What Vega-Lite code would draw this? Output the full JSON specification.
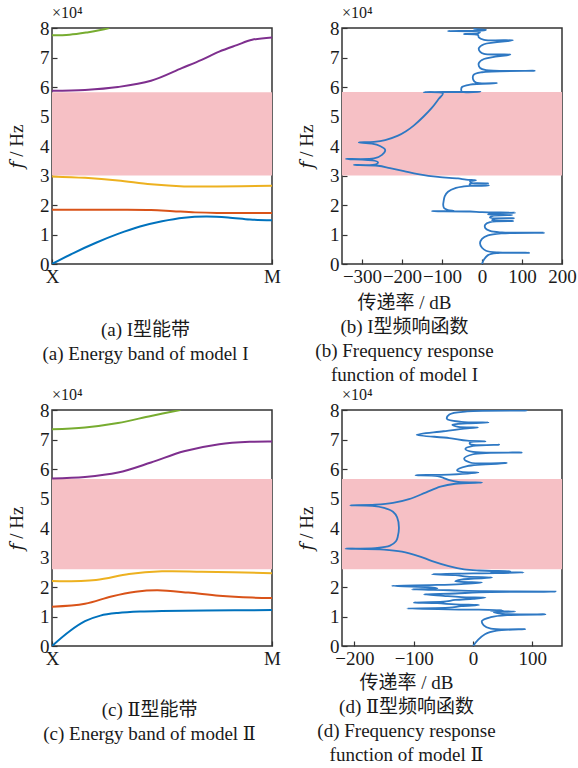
{
  "$schema": "https://vega.github.io/schema/vega-lite/v6.json",
  "autosize": {"type": "pad"},
  "padding": {"left": 6, "top": 4, "right": 5, "bottom": 5},
  "background": "white",
  "bounds": "flush",
  "columns": 2,
  "spacing": {"row": 146, "column": 70},
  "datasets": {
    "bandA": [
      {"k": 0, "f": 0, "mode": "1"}, {"k": 0.1, "f": 0.38, "mode": "1"}, {"k": 0.2, "f": 0.72, "mode": "1"}, {"k": 0.3, "f": 1.02, "mode": "1"}, {"k": 0.4, "f": 1.27, "mode": "1"}, {"k": 0.5, "f": 1.45, "mode": "1"}, {"k": 0.6, "f": 1.57, "mode": "1"}, {"k": 0.7, "f": 1.61, "mode": "1"}, {"k": 0.8, "f": 1.58, "mode": "1"}, {"k": 0.9, "f": 1.51, "mode": "1"}, {"k": 1, "f": 1.48, "mode": "1"},
      {"k": 0, "f": 1.84, "mode": "2"}, {"k": 0.3, "f": 1.84, "mode": "2"}, {"k": 0.45, "f": 1.83, "mode": "2"}, {"k": 0.55, "f": 1.79, "mode": "2"}, {"k": 0.65, "f": 1.75, "mode": "2"}, {"k": 0.75, "f": 1.73, "mode": "2"}, {"k": 1, "f": 1.73, "mode": "2"},
      {"k": 0, "f": 2.97, "mode": "3"}, {"k": 0.15, "f": 2.92, "mode": "3"}, {"k": 0.3, "f": 2.83, "mode": "3"}, {"k": 0.45, "f": 2.7, "mode": "3"}, {"k": 0.6, "f": 2.63, "mode": "3"}, {"k": 0.75, "f": 2.63, "mode": "3"}, {"k": 1, "f": 2.65, "mode": "3"},
      {"k": 0, "f": 5.87, "mode": "4"}, {"k": 0.15, "f": 5.9, "mode": "4"}, {"k": 0.3, "f": 6.0, "mode": "4"}, {"k": 0.45, "f": 6.21, "mode": "4"}, {"k": 0.59, "f": 6.64, "mode": "4"}, {"k": 0.68, "f": 6.92, "mode": "4"}, {"k": 0.76, "f": 7.2, "mode": "4"}, {"k": 0.84, "f": 7.42, "mode": "4"}, {"k": 0.91, "f": 7.6, "mode": "4"}, {"k": 1, "f": 7.68, "mode": "4"},
      {"k": 0, "f": 7.75, "mode": "5"}, {"k": 0.08, "f": 7.77, "mode": "5"}, {"k": 0.16, "f": 7.85, "mode": "5"}, {"k": 0.22, "f": 7.93, "mode": "5"}, {"k": 0.26, "f": 8.0, "mode": "5"}
    ],
    "bandC": [
      {"k": 0, "f": 0, "mode": "1"}, {"k": 0.08, "f": 0.5, "mode": "1"}, {"k": 0.15, "f": 0.84, "mode": "1"}, {"k": 0.22, "f": 1.03, "mode": "1"}, {"k": 0.3, "f": 1.12, "mode": "1"}, {"k": 0.4, "f": 1.17, "mode": "1"}, {"k": 0.5, "f": 1.19, "mode": "1"}, {"k": 0.7, "f": 1.2, "mode": "1"}, {"k": 1, "f": 1.22, "mode": "1"},
      {"k": 0, "f": 1.33, "mode": "2"}, {"k": 0.15, "f": 1.43, "mode": "2"}, {"k": 0.27, "f": 1.68, "mode": "2"}, {"k": 0.38, "f": 1.84, "mode": "2"}, {"k": 0.48, "f": 1.89, "mode": "2"}, {"k": 0.62, "f": 1.81, "mode": "2"}, {"k": 0.76, "f": 1.7, "mode": "2"}, {"k": 0.91, "f": 1.64, "mode": "2"}, {"k": 1, "f": 1.63, "mode": "2"},
      {"k": 0, "f": 2.2, "mode": "3"}, {"k": 0.2, "f": 2.24, "mode": "3"}, {"k": 0.35, "f": 2.44, "mode": "3"}, {"k": 0.5, "f": 2.53, "mode": "3"}, {"k": 0.68, "f": 2.52, "mode": "3"}, {"k": 1, "f": 2.47, "mode": "3"},
      {"k": 0, "f": 5.68, "mode": "4"}, {"k": 0.15, "f": 5.73, "mode": "4"}, {"k": 0.3, "f": 5.88, "mode": "4"}, {"k": 0.45, "f": 6.22, "mode": "4"}, {"k": 0.6, "f": 6.6, "mode": "4"}, {"k": 0.76, "f": 6.84, "mode": "4"}, {"k": 0.9, "f": 6.92, "mode": "4"}, {"k": 1, "f": 6.93, "mode": "4"},
      {"k": 0, "f": 7.35, "mode": "5"}, {"k": 0.15, "f": 7.41, "mode": "5"}, {"k": 0.3, "f": 7.56, "mode": "5"}, {"k": 0.45, "f": 7.8, "mode": "5"}, {"k": 0.583, "f": 8.0, "mode": "5"}
    ],
    "frfB": [
      {"f": 0.0, "v": 0}, {"f": 0.15, "v": 5}, {"f": 0.3, "v": 15}, {"f": 0.37, "v": 40}, {"f": 0.38, "v": 118}, {"f": 0.39, "v": 40}, {"f": 0.45, "v": 10}, {"f": 0.55, "v": 0}, {"f": 0.7, "v": -5}, {"f": 0.85, "v": 0}, {"f": 0.97, "v": 15}, {"f": 1.04, "v": 50}, {"f": 1.06, "v": 155}, {"f": 1.07, "v": 50}, {"f": 1.12, "v": 20}, {"f": 1.22, "v": 8}, {"f": 1.33, "v": 8}, {"f": 1.42, "v": 20}, {"f": 1.46, "v": 78}, {"f": 1.48, "v": 25}, {"f": 1.52, "v": 30}, {"f": 1.55, "v": 80}, {"f": 1.57, "v": 20}, {"f": 1.62, "v": 25}, {"f": 1.66, "v": 75}, {"f": 1.68, "v": 15}, {"f": 1.72, "v": 30}, {"f": 1.74, "v": 83}, {"f": 1.76, "v": 0}, {"f": 1.78, "v": -30}, {"f": 1.79, "v": -125}, {"f": 1.8, "v": -70}, {"f": 1.83, "v": -85}, {"f": 1.9, "v": -95}, {"f": 2.0, "v": -97}, {"f": 2.12, "v": -96}, {"f": 2.3, "v": -93}, {"f": 2.45, "v": -85}, {"f": 2.58, "v": -65}, {"f": 2.63, "v": -45}, {"f": 2.65, "v": -30}, {"f": 2.66, "v": 17}, {"f": 2.67, "v": -30}, {"f": 2.72, "v": -30}, {"f": 2.73, "v": 15}, {"f": 2.74, "v": -25}, {"f": 2.8, "v": -30}, {"f": 2.84, "v": -15}, {"f": 2.86, "v": -40}, {"f": 2.9, "v": -60}, {"f": 2.95, "v": -110}, {"f": 3.05, "v": -160}, {"f": 3.15, "v": -195}, {"f": 3.25, "v": -230}, {"f": 3.33, "v": -260}, {"f": 3.36, "v": -320}, {"f": 3.38, "v": -265}, {"f": 3.45, "v": -260}, {"f": 3.5, "v": -268}, {"f": 3.56, "v": -340}, {"f": 3.58, "v": -270}, {"f": 3.7, "v": -250}, {"f": 3.87, "v": -242}, {"f": 4.0, "v": -255}, {"f": 4.08, "v": -275}, {"f": 4.12, "v": -308}, {"f": 4.14, "v": -270}, {"f": 4.2, "v": -242}, {"f": 4.35, "v": -210}, {"f": 4.5, "v": -190}, {"f": 4.7, "v": -170}, {"f": 5.0, "v": -146}, {"f": 5.3, "v": -125}, {"f": 5.6, "v": -108}, {"f": 5.78, "v": -98}, {"f": 5.825, "v": -145}, {"f": 5.83, "v": -50}, {"f": 5.835, "v": -4}, {"f": 5.84, "v": -50}, {"f": 5.9, "v": -52}, {"f": 6.0, "v": -50}, {"f": 6.08, "v": -30}, {"f": 6.13, "v": 37}, {"f": 6.15, "v": -15}, {"f": 6.25, "v": -22}, {"f": 6.41, "v": -21}, {"f": 6.5, "v": 0}, {"f": 6.55, "v": 132}, {"f": 6.57, "v": 10}, {"f": 6.65, "v": -5}, {"f": 6.81, "v": -8}, {"f": 6.95, "v": 5}, {"f": 7.1, "v": 71}, {"f": 7.12, "v": 5}, {"f": 7.2, "v": -5}, {"f": 7.31, "v": -8}, {"f": 7.45, "v": 5}, {"f": 7.58, "v": 77}, {"f": 7.6, "v": 5}, {"f": 7.68, "v": -8}, {"f": 7.76, "v": -10}, {"f": 7.8, "v": -45}, {"f": 7.82, "v": -10}, {"f": 7.86, "v": -5}, {"f": 7.9, "v": -85}, {"f": 7.92, "v": 5}, {"f": 7.94, "v": 10}, {"f": 7.97, "v": -20}, {"f": 8.0, "v": -15}
    ],
    "frfD": [
      {"f": 0.0, "v": 0}, {"f": 0.2, "v": 8}, {"f": 0.4, "v": 20}, {"f": 0.52, "v": 40}, {"f": 0.57, "v": 88}, {"f": 0.59, "v": 30}, {"f": 0.7, "v": 18}, {"f": 0.85, "v": 15}, {"f": 0.98, "v": 30}, {"f": 1.05, "v": 60}, {"f": 1.07, "v": 122}, {"f": 1.09, "v": 50}, {"f": 1.14, "v": 35}, {"f": 1.17, "v": 71}, {"f": 1.19, "v": 30}, {"f": 1.21, "v": 50}, {"f": 1.23, "v": 10}, {"f": 1.27, "v": -111}, {"f": 1.3, "v": -40}, {"f": 1.35, "v": -20}, {"f": 1.39, "v": 10}, {"f": 1.41, "v": -30}, {"f": 1.45, "v": -60}, {"f": 1.47, "v": -100}, {"f": 1.5, "v": -50}, {"f": 1.56, "v": -30}, {"f": 1.6, "v": 0}, {"f": 1.64, "v": 21}, {"f": 1.66, "v": -20}, {"f": 1.7, "v": -50}, {"f": 1.75, "v": -83}, {"f": 1.78, "v": -30}, {"f": 1.82, "v": 10}, {"f": 1.84, "v": 139}, {"f": 1.86, "v": 20}, {"f": 1.89, "v": -40}, {"f": 1.92, "v": -103}, {"f": 1.95, "v": -60}, {"f": 2.0, "v": -80}, {"f": 2.04, "v": -137}, {"f": 2.07, "v": -60}, {"f": 2.1, "v": -20}, {"f": 2.15, "v": 15}, {"f": 2.19, "v": -30}, {"f": 2.25, "v": -20}, {"f": 2.32, "v": 32}, {"f": 2.35, "v": -10}, {"f": 2.4, "v": -30}, {"f": 2.43, "v": -69}, {"f": 2.46, "v": 0}, {"f": 2.49, "v": 85}, {"f": 2.51, "v": 30}, {"f": 2.53, "v": 63}, {"f": 2.56, "v": 10}, {"f": 2.6, "v": -15}, {"f": 2.71, "v": -41}, {"f": 2.88, "v": -69}, {"f": 3.05, "v": -92}, {"f": 3.2, "v": -120}, {"f": 3.27, "v": -150}, {"f": 3.3, "v": -215}, {"f": 3.32, "v": -165}, {"f": 3.4, "v": -140}, {"f": 3.55, "v": -130}, {"f": 3.7, "v": -127}, {"f": 4.02, "v": -125}, {"f": 4.36, "v": -128}, {"f": 4.55, "v": -135}, {"f": 4.68, "v": -150}, {"f": 4.75, "v": -170}, {"f": 4.77, "v": -207}, {"f": 4.79, "v": -165}, {"f": 4.85, "v": -135}, {"f": 4.98, "v": -108}, {"f": 5.2, "v": -80}, {"f": 5.4, "v": -55}, {"f": 5.5, "v": -30}, {"f": 5.54, "v": 15}, {"f": 5.56, "v": -25}, {"f": 5.62, "v": -40}, {"f": 5.7, "v": -50}, {"f": 5.76, "v": -60}, {"f": 5.79, "v": -97}, {"f": 5.81, "v": -40}, {"f": 5.88, "v": 9}, {"f": 5.9, "v": -20}, {"f": 5.96, "v": -27}, {"f": 6.1, "v": -10}, {"f": 6.2, "v": 57}, {"f": 6.22, "v": -5}, {"f": 6.35, "v": -15}, {"f": 6.5, "v": 0}, {"f": 6.56, "v": 82}, {"f": 6.58, "v": 0}, {"f": 6.68, "v": -13}, {"f": 6.78, "v": 0}, {"f": 6.82, "v": 44}, {"f": 6.84, "v": -5}, {"f": 6.9, "v": -5}, {"f": 6.94, "v": 21}, {"f": 6.96, "v": -10}, {"f": 7.05, "v": -40}, {"f": 7.16, "v": -95}, {"f": 7.28, "v": -50}, {"f": 7.38, "v": -10}, {"f": 7.41, "v": 8}, {"f": 7.43, "v": -25}, {"f": 7.5, "v": -35}, {"f": 7.55, "v": -10}, {"f": 7.58, "v": 26}, {"f": 7.6, "v": -20}, {"f": 7.7, "v": -44}, {"f": 7.85, "v": -40}, {"f": 7.95, "v": -10}, {"f": 7.98, "v": 91}, {"f": 8.0, "v": 50}
    ]
  },
  "concat": [
    {
      "width": 220, "height": 236,
      "title": {"text": "×10⁴"},
      "layer": [
        {
          "data": {"values": [{"lo": 3.0, "hi": 5.82}]},
          "mark": {"type": "rect", "color": "#F6C0C5"},
          "encoding": {
            "x": {"datum": 0, "type": "quantitative", "scale": {"domain": [0, 1], "nice": false}, "axis": {"values": [0, 1], "labelExpr": "datum.value == 0 ? 'X' : 'M'", "title": ["(a) I型能带", "(a) Energy band of model I"], "titleX": 93, "titleY": 71}},
            "x2": {"datum": 1},
            "y": {"field": "lo", "type": "quantitative", "scale": {"domain": [0, 8], "nice": false}, "axis": {"values": [0, 1, 2, 3, 4, 5, 6, 7, 8], "title": "𝑓 / Hz"}},
            "y2": {"field": "hi"}
          }
        },
        {
          "data": {"name": "bandA"},
          "mark": {"type": "line", "strokeWidth": 2, "clip": true, "interpolate": "catmull-rom"},
          "encoding": {
            "x": {"field": "k", "type": "quantitative", "scale": {"domain": [0, 1], "nice": false}, "axis": {"values": [0, 1], "labelExpr": "datum.value == 0 ? 'X' : 'M'", "title": ["(a) I型能带", "(a) Energy band of model I"], "titleX": 93, "titleY": 71}},
            "y": {"field": "f", "type": "quantitative", "scale": {"domain": [0, 8], "nice": false}, "axis": {"values": [0, 1, 2, 3, 4, 5, 6, 7, 8], "title": "𝑓 / Hz"}},
            "color": {"field": "mode", "type": "nominal", "scale": {"domain": ["1", "2", "3", "4", "5"], "range": ["#0072BD", "#D95319", "#EDB120", "#7E2F8E", "#77AC30"]}, "legend": null}
          }
        }
      ]
    },
    {
      "width": 220, "height": 236,
      "title": {"text": "×10⁴"},
      "layer": [
        {
          "data": {"values": [{"lo": 3.0, "hi": 5.83}]},
          "mark": {"type": "rect", "color": "#F6C0C5"},
          "encoding": {
            "x": {"datum": -350, "type": "quantitative", "scale": {"domain": [-350, 200], "nice": false}, "axis": {"values": [-300, -200, -100, 0, 100, 200], "labelOverlap": false, "title": ["传递率 / dB", "(b) I型频响函数", "(b) Frequency response", "function of model I"], "titleX": 62, "titleY": 44}},
            "x2": {"datum": 200},
            "y": {"field": "lo", "type": "quantitative", "scale": {"domain": [0, 8], "nice": false}, "axis": {"values": [0, 1, 2, 3, 4, 5, 6, 7, 8], "title": "𝑓 / Hz"}},
            "y2": {"field": "hi"}
          }
        },
        {
          "data": {"name": "frfB"},
          "mark": {"type": "line", "strokeWidth": 1.8, "color": "#2E78C3", "clip": true, "interpolate": "catmull-rom"},
          "encoding": {
            "x": {"field": "v", "type": "quantitative", "scale": {"domain": [-350, 200], "nice": false}, "axis": {"values": [-300, -200, -100, 0, 100, 200], "labelOverlap": false, "title": ["传递率 / dB", "(b) I型频响函数", "(b) Frequency response", "function of model I"], "titleX": 62, "titleY": 44}},
            "y": {"field": "f", "type": "quantitative", "scale": {"domain": [0, 8], "nice": false}, "axis": {"values": [0, 1, 2, 3, 4, 5, 6, 7, 8], "title": "𝑓 / Hz"}},
            "order": {"field": "f"}
          }
        }
      ]
    },
    {
      "width": 220, "height": 236,
      "title": {"text": "×10⁴"},
      "layer": [
        {
          "data": {"values": [{"lo": 2.6, "hi": 5.66}]},
          "mark": {"type": "rect", "color": "#F6C0C5"},
          "encoding": {
            "x": {"datum": 0, "type": "quantitative", "scale": {"domain": [0, 1], "nice": false}, "axis": {"values": [0, 1], "labelExpr": "datum.value == 0 ? 'X' : 'M'", "title": ["(c) Ⅱ型能带", "(c) Energy band of model Ⅱ"], "titleX": 97, "titleY": 69}},
            "x2": {"datum": 1},
            "y": {"field": "lo", "type": "quantitative", "scale": {"domain": [0, 8], "nice": false}, "axis": {"values": [0, 1, 2, 3, 4, 5, 6, 7, 8], "title": "𝑓 / Hz"}},
            "y2": {"field": "hi"}
          }
        },
        {
          "data": {"name": "bandC"},
          "mark": {"type": "line", "strokeWidth": 2, "clip": true, "interpolate": "catmull-rom"},
          "encoding": {
            "x": {"field": "k", "type": "quantitative", "scale": {"domain": [0, 1], "nice": false}, "axis": {"values": [0, 1], "labelExpr": "datum.value == 0 ? 'X' : 'M'", "title": ["(c) Ⅱ型能带", "(c) Energy band of model Ⅱ"], "titleX": 97, "titleY": 69}},
            "y": {"field": "f", "type": "quantitative", "scale": {"domain": [0, 8], "nice": false}, "axis": {"values": [0, 1, 2, 3, 4, 5, 6, 7, 8], "title": "𝑓 / Hz"}},
            "color": {"field": "mode", "type": "nominal", "scale": {"domain": ["1", "2", "3", "4", "5"], "range": ["#0072BD", "#D95319", "#EDB120", "#7E2F8E", "#77AC30"]}, "legend": null}
          }
        }
      ]
    },
    {
      "width": 220, "height": 236,
      "title": {"text": "×10⁴"},
      "layer": [
        {
          "data": {"values": [{"lo": 2.6, "hi": 5.66}]},
          "mark": {"type": "rect", "color": "#F6C0C5"},
          "encoding": {
            "x": {"datum": -221, "type": "quantitative", "scale": {"domain": [-221, 150], "nice": false}, "axis": {"values": [-200, -100, 0, 100], "labelOverlap": false, "title": ["传递率 / dB", "(d) Ⅱ型频响函数", "(d) Frequency response", "function of model Ⅱ"], "titleX": 64, "titleY": 42}},
            "x2": {"datum": 150},
            "y": {"field": "lo", "type": "quantitative", "scale": {"domain": [0, 8], "nice": false}, "axis": {"values": [0, 1, 2, 3, 4, 5, 6, 7, 8], "title": "𝑓 / Hz"}},
            "y2": {"field": "hi"}
          }
        },
        {
          "data": {"name": "frfD"},
          "mark": {"type": "line", "strokeWidth": 1.8, "color": "#2E78C3", "clip": true, "interpolate": "catmull-rom"},
          "encoding": {
            "x": {"field": "v", "type": "quantitative", "scale": {"domain": [-221, 150], "nice": false}, "axis": {"values": [-200, -100, 0, 100], "labelOverlap": false, "title": ["传递率 / dB", "(d) Ⅱ型频响函数", "(d) Frequency response", "function of model Ⅱ"], "titleX": 64, "titleY": 42}},
            "y": {"field": "f", "type": "quantitative", "scale": {"domain": [0, 8], "nice": false}, "axis": {"values": [0, 1, 2, 3, 4, 5, 6, 7, 8], "title": "𝑓 / Hz"}},
            "order": {"field": "f"}
          }
        }
      ]
    }
  ],
  "config": {
    "font": "Liberation Serif",
    "view": {"stroke": "#333333", "strokeWidth": 1.5},
    "axis": {
      "labelFont": "Liberation Serif, DejaVu Serif, Noto Sans CJK SC",
      "labelFontSize": 19,
      "labelColor": "#1a1a1a",
      "labelFlush": false,
      "titleFont": "Liberation Serif, DejaVu Serif, Noto Sans CJK SC",
      "titleFontSize": 19,
      "titleFontWeight": "normal",
      "titleColor": "#1a1a1a",
      "titleLineHeight": 24,
      "domain": false,
      "grid": false,
      "tickColor": "#333333",
      "tickSize": -5,
      "tickWidth": 1.2,
      "labelPadding": 8
    },
    "axisX": {"titleAlign": "center", "titleBaseline": "alphabetic", "titleAnchor": null},
    "axisY": {"titleX": -30, "titleBaseline": "alphabetic", "labelPadding": 8},
    "title": {"font": "Liberation Serif", "fontSize": 16, "fontWeight": "normal", "color": "#1a1a1a", "anchor": "start", "frame": "group", "offset": -2}
  }
}
